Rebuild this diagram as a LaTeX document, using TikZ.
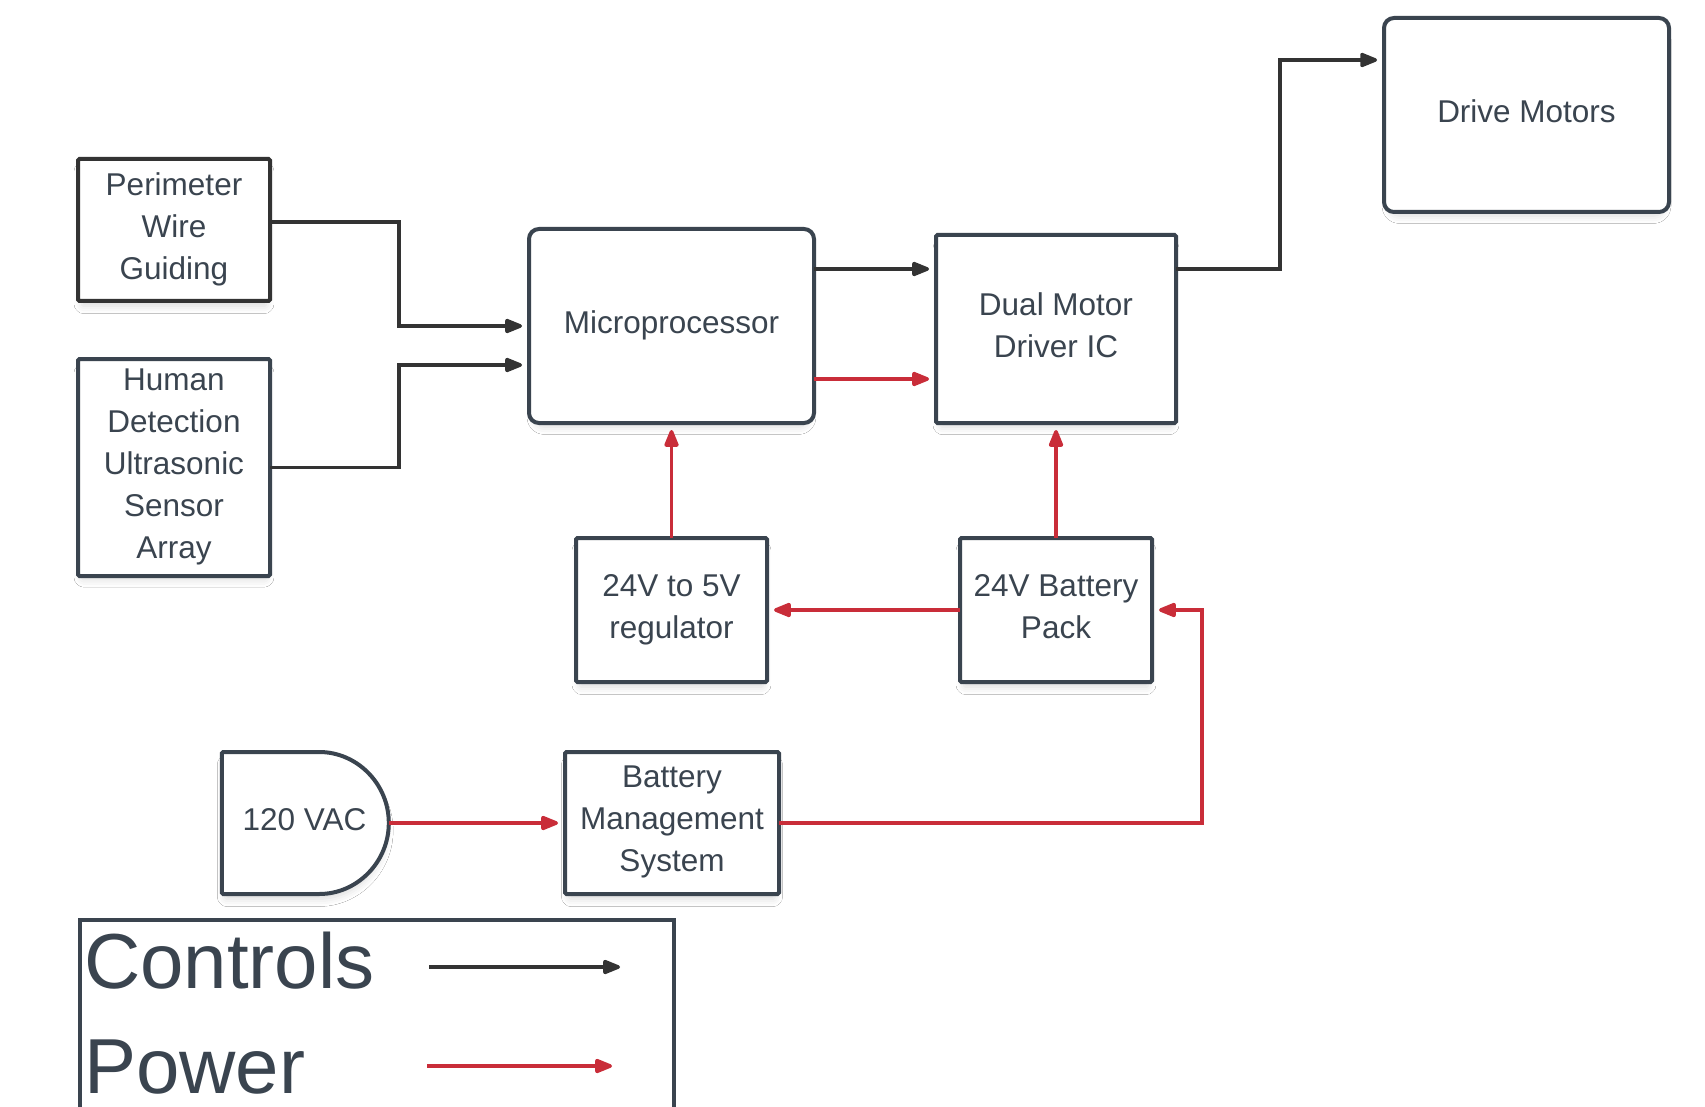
\documentclass[tikz,border=0pt]{standalone}
\usepackage{fontspec}
\setmainfont{Liberation Sans}
\usetikzlibrary{arrows.meta,shapes.misc,shadows.blur}
\definecolor{edge}{HTML}{3A444F}
\definecolor{txt}{HTML}{3A444F}
\definecolor{ctl}{HTML}{333333}
\definecolor{pwr}{HTML}{C92D39}
\begin{document}
\begin{tikzpicture}[x=1pt,y=-1pt,
  box/.style={draw=edge, line width=4pt, fill=white, text=txt, align=center,
    inner sep=0pt, outer sep=0pt, font=\fontsize{31.5}{42}\selectfont, text depth=8pt,
    rounded corners=1.5pt,
    blur shadow={shadow xshift=0pt, shadow yshift=-8pt, shadow scale=0.96, shadow blur radius=8pt, shadow opacity=15}},
  rbox/.style={box, rounded corners=10pt},
  ctrl/.style={draw=ctl, line width=3.5pt, -{Triangle[length=20pt,width=15pt,round]}, shorten >=7pt},
  pwrl/.style={draw=pwr, line width=3.5pt, -{Triangle[length=20pt,width=15pt,round]}, shorten >=7pt},
  legtext/.style={text=txt, inner sep=0pt, outer sep=0pt, font=\fontsize{78}{90}\selectfont, anchor=base west}
]
\useasboundingbox (0,0) rectangle (1705,1107);
\fill[white] (0,0) rectangle (1705,1107);

% nodes
\node[box, draw=ctl, minimum width=192pt, minimum height=142pt] (perim) at (174,230) {Perimeter\\Wire\\Guiding};
\node[box, minimum width=192pt, minimum height=217pt] (human) at (174,467.5) {Human\\Detection\\Ultrasonic\\Sensor\\Array};
\node[rbox, minimum width=285pt, minimum height=194pt] (micro) at (671.5,326) {Microprocessor};
\node[box, minimum width=240pt, minimum height=188pt] (dual) at (1056,329) {Dual Motor\\Driver IC};
\node[rbox, minimum width=285pt, minimum height=194pt] (drive) at (1526.5,115) {Drive Motors};
\node[box, minimum width=191pt, minimum height=144pt] (reg) at (671.5,610) {24V to 5V\\regulator};
\node[box, minimum width=192pt, minimum height=144pt] (batt) at (1056,610) {24V Battery\\Pack};
\node[box, rounded rectangle, rounded rectangle left arc=none, minimum width=167pt, minimum height=142pt] (vac) at (304.5,823) {120 VAC};
\node[box, minimum width=214pt, minimum height=142pt] (bms) at (672,823) {Battery\\Management\\System};

% control connectors
\draw[ctrl] ([yshift=8pt]perim.east) -- ++(129,0) |- (micro.west);
\draw[ctrl] (human.east) -- ++(129,0) |- ([yshift=-39pt]micro.west);
\draw[ctrl] ([yshift=57pt]micro.east) -- ([yshift=60pt]dual.west);
\draw[ctrl] ([yshift=60pt]dual.east) -- ++(104,0) |- ([yshift=55pt]drive.west);

% power connectors
\draw[pwrl] ([yshift=-53pt]micro.east) -- ([yshift=-50pt]dual.west);
\draw[pwrl] (reg.north) -- (micro.south);
\draw[pwrl] (batt.north) -- (dual.south);
\draw[pwrl] (batt.west) -- (reg.east);
\draw[pwrl] (vac.east) -- (bms.west);
\draw[pwrl] (bms.east) -- ++(423,0) |- (batt.east);

% legend
\node[draw=edge, line width=4pt, fill=white, minimum width=594pt, minimum height=192pt, anchor=north west, inner sep=0pt] (legend) at (78,918) {};
\node[legtext] (lctl) at (84,988) {Controls};
\node[legtext] (lpwr) at (84,1093) {Power};
\coordinate (c1) at (429,967);
\coordinate (c2) at (620,967);
\coordinate (p1) at (427,1066);
\coordinate (p2) at (612,1066);
\draw[ctrl, shorten >=0pt] (c1) -- (c2);
\draw[pwrl, shorten >=0pt] (p1) -- (p2);
\end{tikzpicture}
\end{document}
